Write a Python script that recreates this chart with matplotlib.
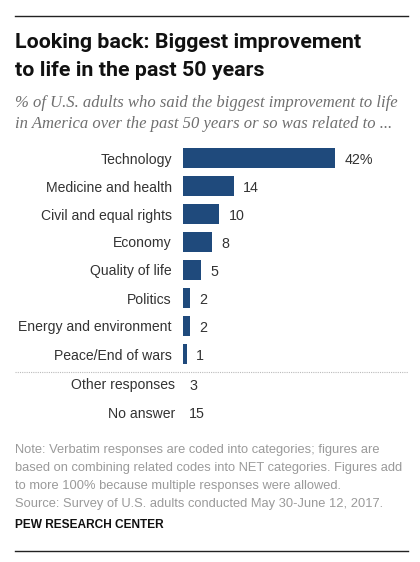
import matplotlib
matplotlib.use("Agg")
import matplotlib.pyplot as plt
from matplotlib.lines import Line2D

categories = ["Technology", "Medicine and health", "Civil and equal rights", "Economy",
              "Quality of life", "Politics", "Energy and environment", "Peace/End of wars"]
values = [42, 14, 10, 8, 5, 2, 2, 1]
value_labels = ["42%", "14", "10", "8", "5", "2", "2", "1"]

other_categories = ["Other responses", "No answer"]
other_values = [3, 15]

title_lines = ["Looking back: Biggest improvement", "to life in the past 50 years"]
subtitle_lines = ["% of U.S. adults who said the biggest improvement to life",
                  "in America over the past 50 years or so was related to ..."]
note_lines = ["Note: Verbatim responses are coded into categories; figures are",
              "based on combining related codes into NET categories. Figures add",
              "to more 100% because multiple responses were allowed.",
              "Source: Survey of U.S. adults conducted May 30-June 12, 2017."]

W, H = 420, 562
bar_color = "#1f4a7c"
text_color = "#333333"

fig = plt.figure(figsize=(W / 100, H / 100), dpi=100)

def fx(px):
    return px / W

def fy(py):
    return 1 - py / H

# top and bottom rules
fig.add_artist(Line2D([fx(15), fx(408)], [fy(16), fy(16)], color="#222222", lw=1.0))
fig.add_artist(Line2D([fx(15), fx(408)], [fy(551), fy(551)], color="#222222", lw=1.0))

for i, line in enumerate(title_lines):
    fig.text(fx(15), fy(41 + 28 * i), line, ha="left", va="center_baseline", fontsize=15.4,
             fontweight="bold", family="Roboto", color="#111111")
for i, line in enumerate(subtitle_lines):
    fig.text(fx(15), fy(101 + 21 * i), line, ha="left", va="center_baseline", fontsize=12,
             style="italic", family="Liberation Serif", color="#6f6f6f")

# bars
ax = fig.add_axes([fx(183), fy(368), fx(408) - fx(183), (368 - 144) / H])
ypos = list(range(len(categories)))
ax.barh(ypos, values, height=0.68, color=bar_color)
ax.set_ylim(len(categories) - 0.5, -0.5)
ax.set_xlim(0, (408 - 183) / 3.62)
for y, v, lab in zip(ypos, values, value_labels):
    ax.text(v + 2.6, y, lab, va="center_baseline", ha="left", fontsize=10.3, color=text_color,
            family="Liberation Sans")
ax.set_yticks(ypos)
ax.set_yticklabels(categories, fontsize=10.1, color=text_color, family="Liberation Sans",
                   va="center_baseline")
ax.tick_params(axis="y", length=0, pad=8)
ax.set_xticks([])
for s in ax.spines.values():
    s.set_visible(False)

# dotted separator
fig.add_artist(Line2D([fx(15), fx(408)], [fy(372), fy(372)], color="#bbbbbb", lw=0.8,
                      linestyle=(0, (1, 1))))

for i, (cat, v) in enumerate(zip(other_categories, other_values)):
    yy = fy(384 + 28 * i)
    fig.text(fx(175), yy, cat, ha="right", va="center_baseline", fontsize=10.1,
             color=text_color, family="Liberation Sans")
    fig.text(fx(189), yy, str(v), ha="left", va="center_baseline", fontsize=10.3,
             color=text_color, family="Liberation Sans")

for i, line in enumerate(note_lines):
    fig.text(fx(15), fy(449 + 18 * i), line, ha="left", va="center_baseline", fontsize=9.3,
             color="#9a9a9a", family="Liberation Sans")
fig.text(fx(15), fy(524), "PEW RESEARCH CENTER", ha="left", va="center_baseline",
         fontsize=8.6, fontweight="bold", color="#111111", family="Liberation Sans")

fig.savefig("out.png", dpi=100)
